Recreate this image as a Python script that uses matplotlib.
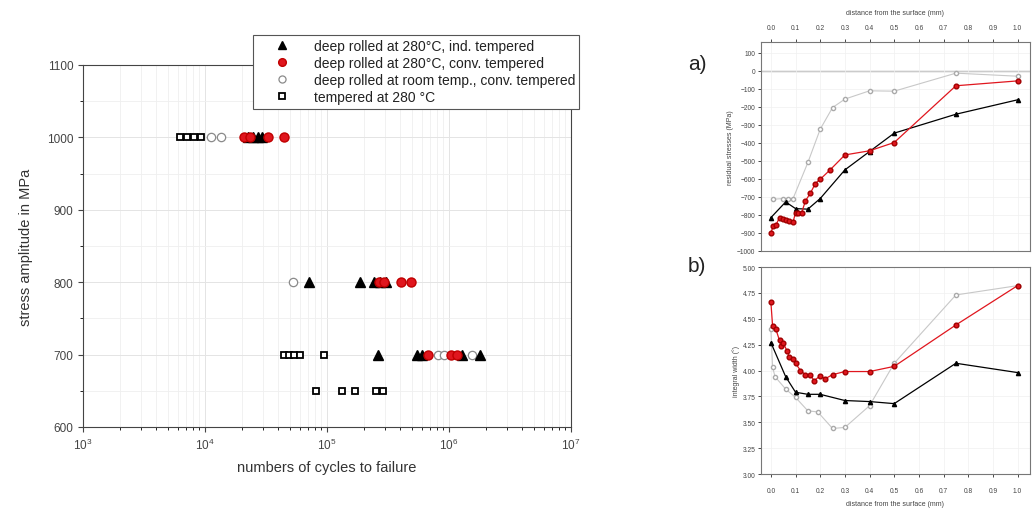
import numpy as np
import matplotlib.pyplot as plt
from matplotlib.ticker import MultipleLocator, LogLocator, NullFormatter, FormatStrFormatter

plt.rcParams['font.family'] = ['Liberation Sans', 'DejaVu Sans']

# S-N data (cycles to failure, stress amplitude in MPa)
ind_cycles = [22500, 24700, 27200, 29300, 71000, 186000, 243000, 272000, 305000,
              262000, 547000, 601000, 1.28e6, 1.80e6]
ind_stress = [1000, 1000, 1000, 1000, 800, 800, 800, 800, 800,
              700, 700, 700, 700, 700]

conv_cycles = [20900, 23400, 32800, 44500, 267000, 293000, 404000, 489000,
               674000, 1.04e6, 1.16e6]
conv_stress = [1000, 1000, 1000, 1000, 800, 800, 800, 800, 700, 700, 700]

room_cycles = [11200, 13500, 52600, 813000, 910000, 1.55e6]
room_stress = [1000, 1000, 800, 700, 700, 700]

temp_cycles = [6240, 7110, 8130, 9270, 44500, 48900, 53700, 60200, 94400,
               81300, 133000, 170000, 252000, 288000]
temp_stress = [1000, 1000, 1000, 1000, 700, 700, 700, 700, 700,
               650, 650, 650, 650, 650]

labels = ['deep rolled at 280°C, ind. tempered',
          'deep rolled at 280°C, conv. tempered',
          'deep rolled at room temp., conv. tempered',
          'tempered at 280 °C']

# residual stress depth profiles (mm, MPa)
rs_ind_x = [0.0, 0.06, 0.1, 0.15, 0.2, 0.3, 0.4, 0.5, 0.75, 1.0]
rs_ind_y = [-815, -728, -765, -768, -709, -550, -448, -346, -241, -161]

rs_conv_x = [0.0, 0.01, 0.02, 0.035, 0.05, 0.06, 0.075, 0.09, 0.1, 0.11, 0.125,
             0.14, 0.16, 0.18, 0.2, 0.24, 0.3, 0.4, 0.5, 0.75, 1.0]
rs_conv_y = [-898, -861, -857, -815, -824, -828, -833, -839, -787, -787, -787,
             -722, -680, -626, -602, -550, -467, -444, -398, -83, -56]

rs_room_x = [0.01, 0.05, 0.07, 0.09, 0.15, 0.2, 0.25, 0.3, 0.4, 0.5, 0.75, 1.0]
rs_room_y = [-713, -709, -709, -709, -509, -324, -204, -157, -111, -113, -13, -30]

# integral width depth profiles (mm, deg)
iw_ind_x = [0.0, 0.06, 0.1, 0.15, 0.2, 0.3, 0.4, 0.5, 0.75, 1.0]
iw_ind_y = [4.27, 3.94, 3.79, 3.77, 3.77, 3.71, 3.70, 3.68, 4.07, 3.98]

iw_conv_x = [0.0, 0.007, 0.02, 0.035, 0.04, 0.05, 0.065, 0.075, 0.09, 0.1, 0.12,
             0.14, 0.16, 0.175, 0.2, 0.22, 0.25, 0.3, 0.4, 0.5, 0.75, 1.0]
iw_conv_y = [4.66, 4.43, 4.40, 4.29, 4.24, 4.27, 4.19, 4.13, 4.11, 4.07, 4.00,
             3.96, 3.96, 3.90, 3.95, 3.92, 3.96, 3.99, 3.99, 4.04, 4.44, 4.82]

iw_room_x = [0.0, 0.007, 0.017, 0.06, 0.1, 0.15, 0.19, 0.25, 0.3, 0.4, 0.5, 0.75, 1.0]
iw_room_y = [4.40, 4.03, 3.94, 3.82, 3.74, 3.61, 3.60, 3.44, 3.45, 3.66, 4.07, 4.73, 4.82]

fig = plt.figure(figsize=(10.33, 5.10), dpi=100)

# ---- S-N plot
ax = fig.add_axes([0.0803, 0.1608, 0.4725, 0.7098])
ax.semilogx(temp_cycles, temp_stress, 's', ms=5, mfc='white', mec='black', mew=1.3,
            ls='none', label=labels[3])
ax.semilogx(room_cycles, room_stress, 'o', ms=6, mfc='white', mec='#8a8a8a', mew=0.9,
            ls='none', label=labels[2])
ax.semilogx(ind_cycles, ind_stress, '^', ms=6.5, color='black', ls='none', label=labels[0])
ax.semilogx(conv_cycles, conv_stress, 'o', ms=6.5, mfc='#e0161e', mec='#c00000',
            ls='none', label=labels[1])
ax.set_xlim(1e3, 1e7)
ax.set_ylim(600, 1100)
ax.yaxis.set_major_locator(MultipleLocator(100))
ax.yaxis.set_minor_locator(MultipleLocator(50))
ax.xaxis.set_minor_locator(LogLocator(base=10, subs=np.arange(2, 10)))
ax.xaxis.set_minor_formatter(NullFormatter())
ax.grid(True, which='major', color='#e4e4e4', lw=0.7)
ax.grid(True, which='minor', color='#efefef', lw=0.6)
ax.tick_params(labelsize=8.5, labelcolor='#444444', color='#444444', direction='out')
ax.set_xlabel('numbers of cycles to failure', fontsize=10.5, color='#333333', labelpad=6)
ax.set_ylabel('stress amplitude in MPa', fontsize=10.5, color='#333333', labelpad=10)
for s in ax.spines.values():
    s.set_color('#444444')

h, l = ax.get_legend_handles_labels()
order = [2, 3, 1, 0]
leg = fig.legend([h[i] for i in order], [l[i] for i in order], loc='upper left',
                 bbox_to_anchor=(0.238, 0.943), fontsize=10, frameon=True, fancybox=False,
                 edgecolor='#555555', framealpha=1, labelspacing=0.22, handletextpad=0.5,
                 borderpad=0.3, handlelength=3.6, markerscale=0.85)
leg.get_frame().set_linewidth(0.8)
for t in leg.get_texts():
    t.set_color('#222222')

# ---- residual stresses
a1 = fig.add_axes([0.7367, 0.506, 0.2603, 0.4097])
a1.axhline(0, color='#777777', lw=0.9, zorder=1)
a1.plot(rs_room_x, rs_room_y, '-o', color='#c8c8c8', mfc='white', mec='#aaaaaa', ms=3, lw=0.8)
a1.plot(rs_ind_x, rs_ind_y, '-^', color='black', ms=3, lw=0.9)
a1.plot(rs_conv_x, rs_conv_y, '-o', color='#e0161e', mfc='#e0161e', mec='#a00000', ms=3.4, lw=0.9)
a1.set_xlim(-0.04, 1.05)
a1.set_ylim(-1000, 160)
a1.yaxis.set_major_locator(MultipleLocator(100))
a1.xaxis.set_major_locator(MultipleLocator(0.1))
a1.xaxis.set_major_formatter(FormatStrFormatter('%.1f'))
a1.xaxis.tick_top()
a1.xaxis.set_label_position('top')
a1.set_xlabel('distance from the surface (mm)', fontsize=5, color='#444444', labelpad=7)
a1.set_ylabel('residual stresses (MPa)', fontsize=5, color='#444444', labelpad=2)
a1.tick_params(labelsize=4.8, labelcolor='#444444', length=2, width=0.5, pad=2)
a1.tick_params(axis='x', pad=6)
a1.grid(True, color='#f0f0f0', lw=0.5)
for s in a1.spines.values():
    s.set_color('#777777')
    s.set_linewidth(0.8)

# ---- integral width
a2 = fig.add_axes([0.7367, 0.0686, 0.2603, 0.4059])
a2.plot(iw_room_x, iw_room_y, '-o', color='#c8c8c8', mfc='white', mec='#aaaaaa', ms=3, lw=0.8)
a2.plot(iw_ind_x, iw_ind_y, '-^', color='black', ms=3, lw=0.9)
a2.plot(iw_conv_x, iw_conv_y, '-o', color='#e0161e', mfc='#e0161e', mec='#a00000', ms=3.4, lw=0.9)
a2.set_xlim(-0.04, 1.05)
a2.set_ylim(3.0, 5.0)
a2.yaxis.set_major_locator(MultipleLocator(0.25))
a2.yaxis.set_major_formatter(FormatStrFormatter('%.2f'))
a2.xaxis.set_major_locator(MultipleLocator(0.1))
a2.xaxis.set_major_formatter(FormatStrFormatter('%.1f'))
a2.set_xlabel('distance from the surface (mm)', fontsize=5, color='#444444', labelpad=5)
a2.set_ylabel('integral width (°)', fontsize=5, color='#444444', labelpad=2)
a2.tick_params(labelsize=4.8, labelcolor='#444444', length=2, width=0.5, pad=2)
a2.tick_params(axis='x', pad=7)
a2.grid(True, color='#f0f0f0', lw=0.5)
for s in a2.spines.values():
    s.set_color('#777777')
    s.set_linewidth(0.8)

fig.text(0.666, 0.862, 'a)', fontsize=15, color='#222222')
fig.text(0.666, 0.466, 'b)', fontsize=15, color='#222222')

fig.savefig('out.png', dpi=100)
